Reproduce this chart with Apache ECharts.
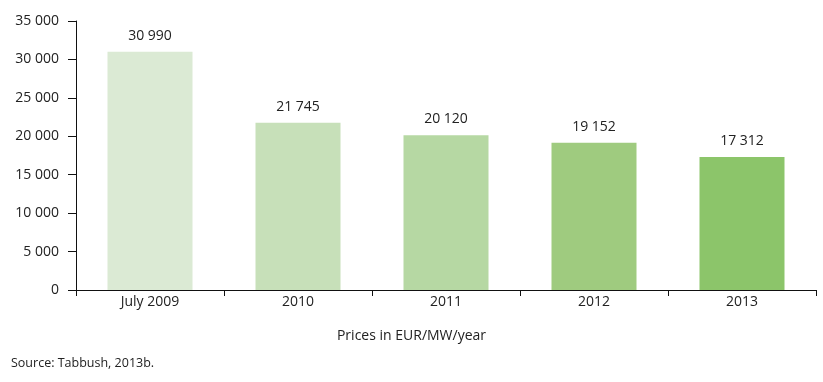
<!DOCTYPE html>
<html><head><meta charset="utf-8">
<script src="https://cdn.jsdelivr.net/npm/echarts@6/dist/echarts.min.js"></script>
<style>html,body{margin:0;padding:0;background:#fff}#c{width:823px;height:382px}</style>
</head><body><div id="c"></div>
<script>
var categories = ['July 2009', '2010', '2011', '2012', '2013'];
var prices = [30990, 21745, 20120, 19152, 17312];
var barColors = ['#dbead4', '#c7e0b9', '#b6d8a3', '#9fcb7f', '#8cc56a'];
var yTicks = [0, 5000, 10000, 15000, 20000, 25000, 30000, 35000];
var unitNote = 'Prices in EUR/MW/year';
var sourceNote = 'Source: Tabbush, 2013b.';

function fmt(v){ return String(v).replace(/\B(?=(\d{3})+(?!\d))/g, ' '); }
var FONT = '"Open Sans", "Noto Sans", sans-serif';
var chart = echarts.init(document.getElementById('c'));
chart.setOption({
  animation: false,
  backgroundColor: '#fff',
  grid: { left: 76, right: 7, top: 21, bottom: 92, containLabel: false },
  graphic: [
    { type: 'text', left: 'center', top: 329, style: { text: unitNote, font: '14px ' + FONT, fill: '#222' } },
    { type: 'text', left: 11, top: 357, style: { text: sourceNote, font: '12.5px ' + FONT, fill: '#222' } }
  ],
  xAxis: {
    type: 'category',
    data: categories,
    axisLine: { lineStyle: { color: '#111', width: 1 } },
    axisTick: { show: true, length: 6, lineStyle: { color: '#111' } },
    axisLabel: { color: '#222', fontSize: 14, fontFamily: FONT, margin: 5 }
  },
  yAxis: {
    type: 'value',
    min: 0, max: yTicks[yTicks.length - 1], interval: yTicks[1] - yTicks[0],
    splitLine: { show: false },
    axisLine: { show: true, lineStyle: { color: '#111', width: 1 } },
    axisTick: { show: true, length: 8, lineStyle: { color: '#111' } },
    axisLabel: { color: '#222', fontSize: 14, fontFamily: FONT, margin: 17, formatter: fmt }
  },
  series: [{
    type: 'bar',
    barWidth: 85,
    data: prices.map(function (v, i) { return { value: v, itemStyle: { color: barColors[i] } }; }),
    label: { show: true, position: 'top', distance: 9, color: '#222', fontSize: 14, fontFamily: FONT, formatter: function (p) { return fmt(p.value); } }
  }]
});
</script></body></html>
